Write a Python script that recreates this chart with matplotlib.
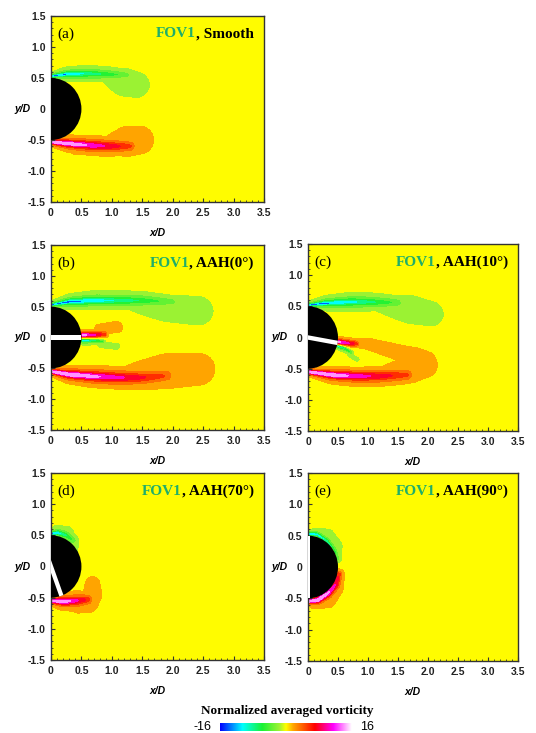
import numpy as np
import matplotlib
matplotlib.use("Agg")
import matplotlib.pyplot as plt
from matplotlib.colors import LinearSegmentedColormap, Normalize
from matplotlib.patches import Wedge, Rectangle
import matplotlib.transforms as mtransforms

# ---- data: shear-layer / jet streaks (x/D, y/D, vorticity, spread)
a_up = dict(x=[0.0, 0.25, 0.6, 0.95, 1.25], y=[0.53, 0.56, 0.57, 0.56, 0.55],
            amp=[-16, -13, -9, -6, -3.5], w=[0.02, 0.04, 0.055, 0.065, 0.07])
a_up_blob = dict(x=[0.35, 0.9, 1.2, 1.4], y=[0.58, 0.53, 0.41, 0.37],
                 amp=[-2, -2, -2, -2], w=[0.08, 0.13, 0.3, 0.28])
a_lo = dict(x=[0.0, 0.3, 0.7, 1.0, 1.3], y=[-0.53, -0.56, -0.59, -0.6, -0.6],
            amp=[16, 15, 11, 8, 5], w=[0.02, 0.04, 0.055, 0.065, 0.07])
a_lo_blob = dict(x=[0.4, 0.9, 1.25, 1.45], y=[-0.64, -0.6, -0.5, -0.48],
                 amp=[2, 2, 2, 2], w=[0.1, 0.15, 0.3, 0.28])

b_up = dict(x=[0.0, 0.3, 0.7, 1.1, 1.5, 2.0], y=[0.53, 0.58, 0.6, 0.6, 0.6, 0.58],
            amp=[-16, -15, -12, -9, -6.5, -3.5], w=[0.02, 0.04, 0.055, 0.065, 0.075, 0.08])
b_up_blob = dict(x=[0.5, 1.2, 1.9, 2.42], y=[0.62, 0.58, 0.45, 0.4],
                 amp=[-2, -2, -2, -2], w=[0.1, 0.14, 0.3, 0.33])
b_lo = dict(x=[0.0, 0.3, 0.7, 1.1, 1.5, 1.9], y=[-0.55, -0.6, -0.63, -0.65, -0.65, -0.62],
            amp=[16, 16, 13, 10, 7, 4.5], w=[0.02, 0.04, 0.055, 0.065, 0.075, 0.08])
b_lo_blob = dict(x=[0.5, 1.2, 1.9, 2.42], y=[-0.66, -0.66, -0.52, -0.48],
                 amp=[2, 2, 2, 2], w=[0.1, 0.2, 0.35, 0.34])
b_jet_p = dict(x=[0.52, 0.7, 0.88], y=[0.04, 0.04, 0.05], amp=[15, 11, 6], w=[0.03, 0.035, 0.04])
b_jet_p_blob = dict(x=[0.8, 1.08], y=[0.13, 0.17], amp=[2, 2], w=[0.11, 0.13])
b_jet_n = dict(x=[0.52, 0.7, 0.85], y=[-0.05, -0.05, -0.06], amp=[-14, -10, -6], w=[0.03, 0.035, 0.04])
b_jet_n_blob = dict(x=[0.8, 1.08], y=[-0.11, -0.14], amp=[-2, -2], w=[0.08, 0.1])

c_up = dict(x=[0.0, 0.3, 0.7, 1.0, 1.5], y=[0.52, 0.55, 0.57, 0.57, 0.56],
            amp=[-16, -14, -11, -8, -4], w=[0.02, 0.04, 0.055, 0.065, 0.075])
c_up_blob = dict(x=[0.5, 1.1, 1.7, 2.05], y=[0.6, 0.56, 0.43, 0.36],
                 amp=[-2, -2, -2, -2], w=[0.1, 0.14, 0.29, 0.26])
c_lo = dict(x=[0.0, 0.4, 0.8, 1.2, 1.65], y=[-0.55, -0.6, -0.62, -0.62, -0.6],
            amp=[16, 15, 11, 8, 5], w=[0.02, 0.04, 0.055, 0.065, 0.075])
c_lo_blob = dict(x=[0.5, 1.2, 1.7, 1.95], y=[-0.64, -0.62, -0.5, -0.42],
                 amp=[2, 2, 2, 2], w=[0.1, 0.15, 0.26, 0.25])
c_jet_p = dict(x=[0.5, 0.65, 0.8], y=[-0.07, -0.09, -0.1], amp=[15, 11, 6], w=[0.028, 0.033, 0.038])
c_jet_p_blob = dict(x=[0.68, 1.0, 1.4, 1.8, 2.0], y=[-0.1, -0.1, -0.2, -0.3, -0.35],
                    amp=[2, 2, 2, 2, 2], w=[0.08, 0.11, 0.16, 0.2, 0.16])
c_jet_n = dict(x=[0.5, 0.62, 0.72], y=[-0.14, -0.18, -0.24], amp=[-13, -9, -5], w=[0.028, 0.033, 0.038])
c_jet_n_blob = dict(x=[0.7, 0.82], y=[-0.28, -0.36], amp=[-2, -2], w=[0.08, 0.08])

d_up = dict(x=[0.0, 0.12, 0.25, 0.36], y=[0.53, 0.54, 0.5, 0.42],
            amp=[-16, -11, -7, -4.5], w=[0.02, 0.04, 0.055, 0.06])
d_up_blob = dict(x=[0.08, 0.28, 0.37, 0.37], y=[0.6, 0.55, 0.35, 0.06],
                 amp=[-2, -2, -2, -2], w=[0.08, 0.11, 0.1, 0.09])
d_lo = dict(x=[0.0, 0.2, 0.4, 0.6], y=[-0.55, -0.56, -0.55, -0.53],
            amp=[16, 15, 10, 6], w=[0.02, 0.04, 0.055, 0.06])
d_lo_blob = dict(x=[0.45, 0.62, 0.68, 0.68], y=[-0.62, -0.58, -0.45, -0.28],
                 amp=[2, 2, 2, 2], w=[0.13, 0.16, 0.16, 0.13])

e_up = dict(x=[0.0, 0.15, 0.31, 0.44, 0.5], y=[0.53, 0.52, 0.42, 0.27, 0.12],
            amp=[-16, -13, -9, -6, -3.5], w=[0.02, 0.03, 0.04, 0.045, 0.05])
e_up_blob = dict(x=[0.1, 0.35, 0.5, 0.52], y=[0.58, 0.52, 0.35, 0.1],
                 amp=[-2, -2, -2, -2], w=[0.06, 0.1, 0.09, 0.07])
e_lo = dict(x=[0.0, 0.16, 0.33, 0.46, 0.51], y=[-0.55, -0.53, -0.42, -0.28, -0.12],
            amp=[16, 16, 13, 9, 6], w=[0.02, 0.03, 0.04, 0.045, 0.05])
e_lo_blob = dict(x=[0.1, 0.35, 0.5, 0.52], y=[-0.6, -0.55, -0.35, -0.1],
                 amp=[2, 2, 2, 2], w=[0.07, 0.1, 0.09, 0.07])

panel_tags = ['(a)', '(b)', '(c)', '(d)', '(e)']
panel_cases = [', Smooth', ', AAH(0°)', ', AAH(10°)', ', AAH(70°)', ', AAH(90°)']
slit_angles = [None, 0, 10, 70, 90]
panel_streaks = [
    [a_up, a_up_blob, a_lo, a_lo_blob],
    [b_up, b_up_blob, b_lo, b_lo_blob, b_jet_p, b_jet_p_blob, b_jet_n, b_jet_n_blob],
    [c_up, c_up_blob, c_lo, c_lo_blob, c_jet_p, c_jet_p_blob, c_jet_n, c_jet_n_blob],
    [d_up, d_up_blob, d_lo, d_lo_blob],
    [e_up, e_up_blob, e_lo, e_lo_blob],
]
levels = [-16, -12, -9, -6.5, -4.5, -2.5, -1, 1, 2.5, 4.5, 6.5, 9, 12, 16]

# colour map like the Tecplot bar: blue-cyan-green-yellow-orange-red-magenta-white
cmap = LinearSegmentedColormap.from_list('vort', [
    (0.00, (0, 0, 1)), (0.17, (0, 1, 1)), (0.32, (0.1, 0.95, 0.2)),
    (0.45, (0.62, 0.95, 0.2)), (0.50, (1, 1, 0)), (0.555, (1, 0.65, 0)),
    (0.62, (1, 0.4, 0)), (0.72, (1, 0, 0)), (0.86, (1, 0, 1)), (1.00, (1, 1, 1))])
norm = Normalize(-16, 16)

serif = 'Liberation Serif'
sans = 'Liberation Sans'

xg = np.linspace(0, 3.5, 351)
yg = np.linspace(-1.5, 1.5, 301)
X, Y = np.meshgrid(xg, yg)


def build_field(streaks):
    pos = np.zeros_like(X)
    neg = np.zeros_like(X)
    for s in streaks:
        xs, ys = np.asarray(s['x'], float), np.asarray(s['y'], float)
        arc = np.r_[0, np.cumsum(np.hypot(np.diff(xs), np.diff(ys)))]
        t = np.linspace(0, arc[-1], 120)
        px, py = np.interp(t, arc, xs), np.interp(t, arc, ys)
        pa, pw = np.interp(t, arc, s['amp']), np.interp(t, arc, s['w'])
        for x0, y0, a, w in zip(px, py, pa, pw):
            v = a / (1 + ((X - x0) ** 2 + (Y - y0) ** 2) / w ** 2)
            if a > 0:
                pos = np.maximum(pos, v)
            else:
                neg = np.minimum(neg, v)
    return pos + neg


fig = plt.figure(figsize=(5.36, 7.33), dpi=100)
rects = [
    [51 / 536, 1 - 202 / 733, 213 / 536, 186 / 733],
    [51 / 536, 1 - 430 / 733, 213 / 536, 185 / 733],
    [308 / 536, 1 - 431 / 733, 210 / 536, 187 / 733],
    [51 / 536, 1 - 660 / 733, 213 / 536, 187 / 733],
    [308 / 536, 1 - 661 / 733, 210 / 536, 188 / 733],
]

for rect, tag, case, ang, streaks in zip(rects, panel_tags, panel_cases, slit_angles, panel_streaks):
    ax = fig.add_axes(rect)
    ax.set_facecolor('yellow')
    Z = np.clip(build_field(streaks), -15.9, 15.9)
    ax.contourf(X, Y, Z, levels=levels, cmap=cmap, norm=norm)

    # cylinder (right half) and the through-hole
    ax.add_patch(Wedge((0, 0), 0.5, -90, 90, facecolor='black', edgecolor='none', zorder=3))
    if ang is not None:
        sw = 0.07
        tr = mtransforms.Affine2D().rotate_deg(-ang) + ax.transData
        ax.add_patch(Rectangle((-0.5, -sw / 2), 1.0, sw, facecolor='white',
                               edgecolor='none', transform=tr, zorder=4))

    ax.set_xlim(0, 3.5)
    ax.set_ylim(-1.5, 1.5)
    ax.set_xticks(np.arange(0, 3.51, 0.5))
    ax.set_xticklabels(['0', '0.5', '1.0', '1.5', '2.0', '2.5', '3.0', '3.5'])
    ax.set_yticks(np.arange(-1.5, 1.51, 0.5))
    ax.set_yticklabels(['-1.5', '-1.0', '-0.5', '0', '0.5', '1.0', '1.5'])
    ax.set_xticks(np.arange(0, 3.51, 0.1), minor=True)
    ax.set_yticks(np.arange(-1.5, 1.51, 0.1), minor=True)
    ax.tick_params(which='both', direction='in', top=False, right=False, color='#333333')
    ax.tick_params(which='major', length=3, width=0.8, pad=4)
    ax.tick_params(which='minor', length=1.5, width=0.6)
    for lab in ax.get_xticklabels() + ax.get_yticklabels():
        lab.set_fontfamily(sans)
        lab.set_fontweight('bold')
        lab.set_fontsize(7.5)
        lab.set_color('#222222')
    for sp in ax.spines.values():
        sp.set_linewidth(1.0)
        sp.set_color('#333333')

    ax.set_xlabel('x/D', fontfamily=sans, fontweight='bold', fontstyle='italic', fontsize=7.5)
    ax.xaxis.set_label_coords(0.5, -0.14)
    ax.set_ylabel('y/D', fontfamily=sans, fontweight='bold', fontstyle='italic', fontsize=7.5,
                  rotation=0, ha='right', va='center')
    ax.yaxis.set_label_coords(-0.095, 0.5)

    # panel annotations
    ax.text(0.1, 1.21, tag, fontfamily=serif, fontsize=11, ha='left', va='center', zorder=6)
    t1 = ax.text(3.33, 1.21, case, fontfamily=serif, fontweight='bold', fontsize=11,
                 ha='right', va='center', zorder=6)
    ax.annotate('FOV1', xy=(0, 0), xycoords=t1, fontfamily=serif, fontweight='bold',
                fontsize=11, color='#1fae6a', ha='right', va='bottom', zorder=6)

# colour bar
cax = fig.add_axes([220 / 536, 2 / 733, 132 / 536, 8 / 733])
grad = np.linspace(-16, 16, 256).reshape(1, -1)
cax.imshow(grad, aspect='auto', cmap=cmap, norm=norm, extent=(-16, 16, 0, 1))
cax.set_axis_off()
fig.text(212 / 536, 6 / 733, '-16', fontfamily=sans, fontsize=9, ha='right', va='center')
fig.text(360 / 536, 6 / 733, '16', fontfamily=sans, fontsize=9, ha='left', va='center')
fig.text(287 / 536, 22 / 733, 'Normalized averaged vorticity', fontfamily=serif,
         fontweight='bold', fontsize=9.5, ha='center', va='center')

fig.savefig('out.png', dpi=100)
